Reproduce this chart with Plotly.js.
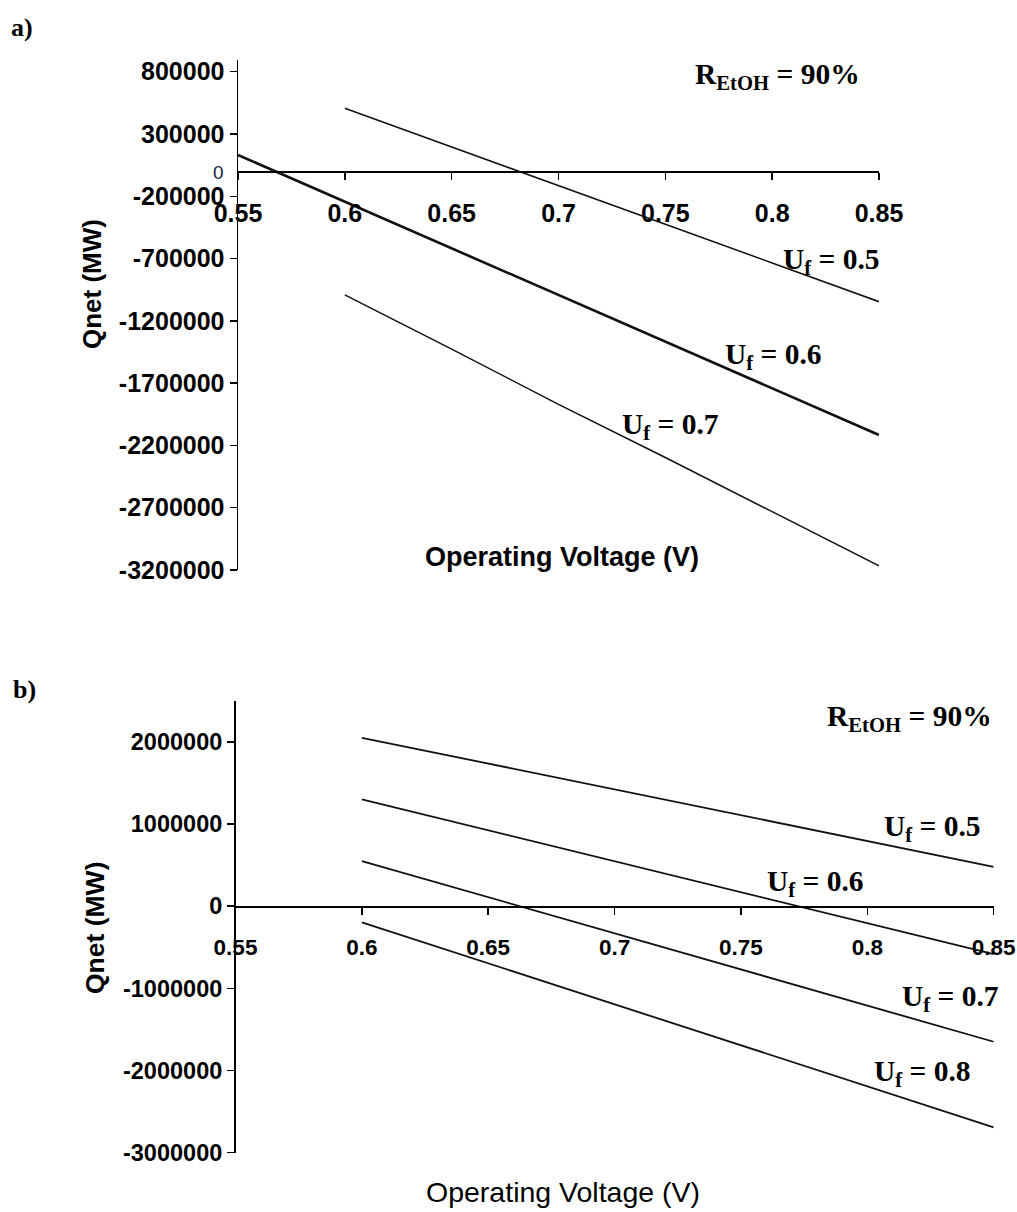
<!DOCTYPE html>
<html>
<head>
<meta charset="utf-8">
<script src="https://cdn.plot.ly/plotly-3.0.1.min.js"></script>
<style>html,body{margin:0;padding:0;background:#fff}#chart{width:1017px;height:1212px}</style>
</head>
<body>
<div id="chart"></div>
<script>
// ---- Data ----
// Panel a
const voltsA_full = [0.55, 0.6, 0.65, 0.7, 0.75, 0.8, 0.85];
const voltsA = [0.6, 0.65, 0.7, 0.75, 0.8, 0.85];
const qnetA_uf05 = [506000, 195000, -120000, -425000, -735000, -1046000];
const qnetA_uf06 = [131000, -243000, -618000, -993000, -1367000, -1742000, -2116000];
const qnetA_uf07 = [-992000, -1427000, -1870000, -2297000, -2732000, -3167000];
const yTicksA = [800000, 300000, -200000, -700000, -1200000, -1700000, -2200000, -2700000, -3200000];
// Panel b
const voltsB = [0.6, 0.65, 0.7, 0.75, 0.8, 0.85];
const qnetB_uf05 = [2049000, 1735000, 1420000, 1107000, 793000, 479000];
const qnetB_uf06 = [1299000, 923000, 546000, 170000, -206000, -583000];
const qnetB_uf07 = [549000, 109000, -330000, -770000, -1210000, -1650000];
const qnetB_uf08 = [-197000, -696000, -1195000, -1694000, -2192000, -2691000];
const yTicksB = [2000000, 1000000, 0, -1000000, -2000000, -3000000];
const xTicks = [0.55, 0.6, 0.65, 0.7, 0.75, 0.8, 0.85];

// ---- Layout helpers ----
const W = 1017, H = 1212;
const px = x => x / W;
const py = y => 1 - y / H;

const rangeA = [-3200000, 894000];
const rangeB = [-3000000, 2500000];
const domXA = [px(238), px(879)], domYA = [py(570), py(60)];
const domXB = [px(235.5), px(993.7)], domYB = [py(1152.7), py(700.7)];
const zeroPos = (dom, r) => dom[0] + (0 - r[0]) / (r[1] - r[0]) * (dom[1] - dom[0]);

const sans = 'Liberation Sans, Arial, sans-serif';
const serif = 'Liberation Serif, Times New Roman, serif';
const lineCol = '#111';

const traces = [
  {x: voltsA, y: qnetA_uf05, xaxis: 'x', yaxis: 'y', mode: 'lines', line: {color: lineCol, width: 1.5}, name: 'Uf=0.5'},
  {x: voltsA_full, y: qnetA_uf06, xaxis: 'x', yaxis: 'y', mode: 'lines', line: {color: lineCol, width: 2.6}, name: 'Uf=0.6'},
  {x: voltsA, y: qnetA_uf07, xaxis: 'x', yaxis: 'y', mode: 'lines', line: {color: lineCol, width: 1.5}, name: 'Uf=0.7'},
  {x: voltsB, y: qnetB_uf05, xaxis: 'x2', yaxis: 'y2', mode: 'lines', line: {color: lineCol, width: 1.8}, name: 'Uf=0.5'},
  {x: voltsB, y: qnetB_uf06, xaxis: 'x2', yaxis: 'y2', mode: 'lines', line: {color: lineCol, width: 1.8}, name: 'Uf=0.6'},
  {x: voltsB, y: qnetB_uf07, xaxis: 'x2', yaxis: 'y2', mode: 'lines', line: {color: lineCol, width: 1.8}, name: 'Uf=0.7'},
  {x: voltsB, y: qnetB_uf08, xaxis: 'x2', yaxis: 'y2', mode: 'lines', line: {color: lineCol, width: 1.8}, name: 'Uf=0.8'}
];

const xCommon = {
  range: [0.55, 0.85], showgrid: false, zeroline: false, showline: true, linecolor: '#000', linewidth: 1.5,
  ticks: 'outside', ticklen: 7, tickwidth: 1.5, tickcolor: '#000',
  tickvals: xTicks, ticktext: xTicks.map(String), anchor: 'free'
};
const yCommon = {
  showgrid: false, zeroline: false, showline: true, linecolor: '#000', linewidth: 1.5,
  ticks: 'outside', ticklen: 7, tickwidth: 1.5, tickcolor: '#000'
};

function label(text, x, y, size, opts) {
  return Object.assign({
    text: text, xref: 'paper', yref: 'paper', x: px(x), y: py(y),
    xanchor: 'left', yanchor: 'middle', showarrow: false,
    font: {family: serif, size: size, color: '#000', weight: 'bold'}
  }, opts || {});
}

const annotations = [
  label('a)', 9, 27, 26),
  label('b)', 11, 690, 26),
  // panel a
  label('R<sub>EtOH</sub> = 90%', 693, 76, 29.5),
  label('U<sub>f</sub> = 0.5', 781, 261, 29.5),
  label('U<sub>f</sub> = 0.6', 723, 356, 29.5),
  label('U<sub>f</sub> = 0.7', 620, 426, 29.5),
  // panel b
  label('R<sub>EtOH</sub> = 90%', 825, 718, 29.5),
  label('U<sub>f</sub> = 0.5', 882, 828, 29.5),
  label('U<sub>f</sub> = 0.6', 765, 883, 29.5),
  label('U<sub>f</sub> = 0.7', 900, 998, 29.5),
  label('U<sub>f</sub> = 0.8', 872, 1073, 29.5),
  // zero label panel a
  label('0', 218, 173, 19, {xanchor: 'center', font: {family: sans, size: 19, color: '#1c1c40'}}),
  // axis titles
  label('Operating Voltage (V)', 562, 557, 27, {xanchor: 'center', font: {family: sans, size: 27, color: '#000', weight: 'bold'}}),
  label('Operating Voltage (V)', 563, 1192, 28.5, {xanchor: 'center', font: {family: sans, size: 28.5, color: '#000'}}),
  label('Qnet (MW)', 92, 284, 26, {xanchor: 'center', textangle: -90, font: {family: sans, size: 26, color: '#000', weight: 'bold'}}),
  label('Qnet (MW)', 95, 928, 26.5, {xanchor: 'center', textangle: -90, font: {family: sans, size: 26.5, color: '#000', weight: 'bold'}})
];

const layout = {
  width: W, height: H, margin: {l: 0, r: 0, t: 0, b: 0},
  paper_bgcolor: '#fff', plot_bgcolor: 'rgba(0,0,0,0)', showlegend: false,
  xaxis: Object.assign({}, xCommon, {domain: domXA, position: zeroPos(domYA, rangeA), ticklabelstandoff: 12,
    tickfont: {family: sans, size: 25, color: '#000', weight: 'bold'}}),
  yaxis: Object.assign({}, yCommon, {domain: domYA, range: rangeA, anchor: 'x',
    tickvals: yTicksA, ticktext: yTicksA.map(String),
    tickfont: {family: sans, size: 25, color: '#000', weight: 'bold'}}),
  xaxis2: Object.assign({}, xCommon, {domain: domXB, position: zeroPos(domYB, rangeB), ticklabelstandoff: 13,
    tickfont: {family: sans, size: 22.5, color: '#000', weight: 'bold'}}),
  yaxis2: Object.assign({}, yCommon, {domain: domYB, range: rangeB, anchor: 'x2',
    tickvals: yTicksB, ticktext: yTicksB.map(String),
    tickfont: {family: sans, size: 23.5, color: '#000', weight: 'bold'}}),
  annotations: annotations
};

Plotly.newPlot('chart', traces, layout, {staticPlot: true, displayModeBar: false});
</script>
</body>
</html>
